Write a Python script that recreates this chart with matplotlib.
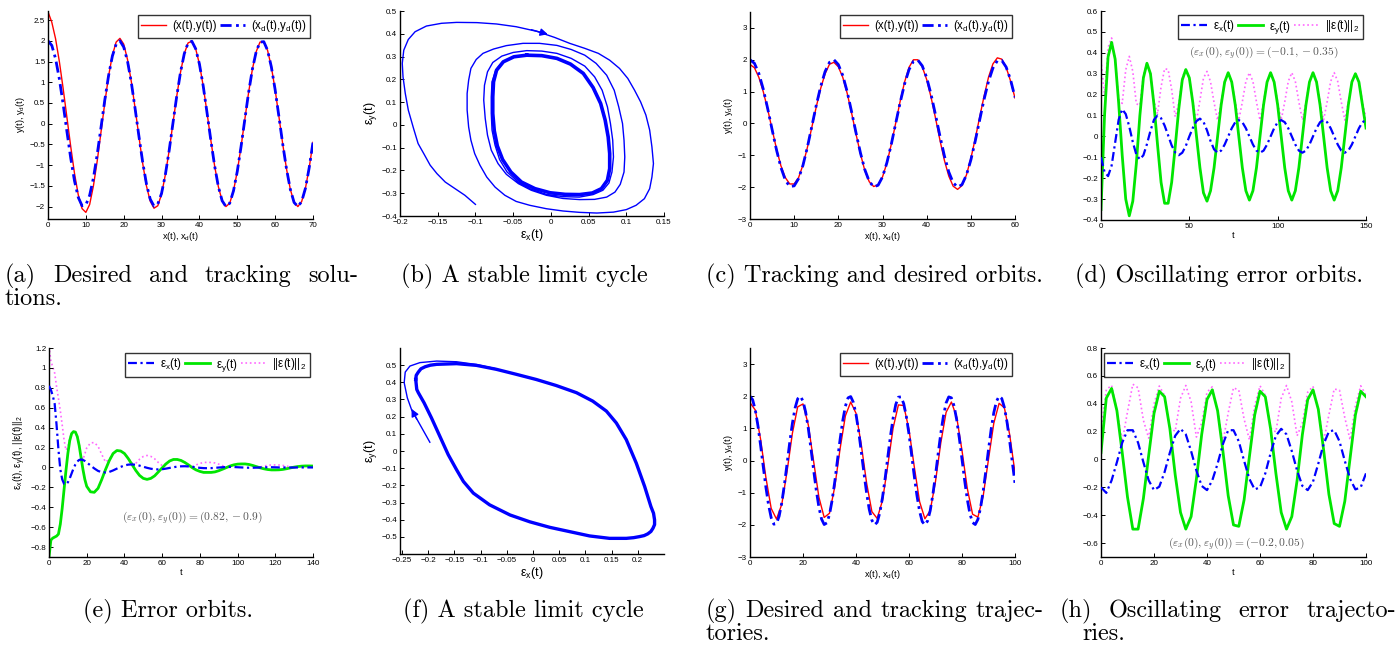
import matplotlib
matplotlib.use('Agg')
import matplotlib.pyplot as plt
from matplotlib.ticker import FuncFormatter

plt.rcParams['font.family'] = ['Liberation Sans', 'DejaVu Sans']
plt.rcParams['axes.unicode_minus'] = True

W, H = 1398, 653

# ---------------- data ----------------
# desired orbit y_d over x_d = 0..100 (step 1), shared by (a), (c), (g)
x_d = list(range(0, 101))
y_d = [2.00, 1.89, 1.57, 1.08, 0.47, -0.19, -0.83, -1.38, -1.78, -1.98,
       -1.96, -1.73, -1.31, -0.74, -0.09, 0.57, 1.16, 1.63, 1.92, 2.00,
       1.85, 1.51, 1.00, 0.37, -0.29, -0.92, -1.45, -1.82, -1.99, -1.94,
       -1.68, -1.23, -0.65, 0.01, 0.66, 1.24, 1.69, 1.95, 1.99, 1.81,
       1.44, 0.91, 0.27, -0.39, -1.01, -1.52, -1.86, -2.00, -1.92, -1.62,
       -1.15, -0.55, 0.11, 0.76, 1.32, 1.74, 1.97, 1.98, 1.77, 1.37,
       0.82, 0.17, -0.49, -1.09, -1.58, -1.90, -2.00, -1.88, -1.56, -1.06,
       -0.45, 0.21, 0.85, 1.39, 1.79, 1.98, 1.95, 1.70, 1.27, 0.69,
       0.04, -0.62, -1.21, -1.66, -1.93, -1.99, -1.83, -1.47, -0.95, -0.32,
       0.34, 0.97, 1.49, 1.84, 2.00, 1.93, 1.65, 1.19, 0.60, -0.06,
       -0.71]

# (a) tracking orbit, x = 0..70; after x=30 it lies on the desired one
y_a_head = [2.70, 2.45, 2.05, 1.50, 0.85, 0.15, -0.55, -1.20, -1.72, -2.05,
            -2.14, -1.95, -1.50, -0.90, -0.20, 0.50, 1.15, 1.65, 1.97, 2.06,
            1.92, 1.55, 1.02, 0.38, -0.30, -0.95, -1.50, -1.87, -2.04, -1.98,
            -1.70]
y_a = y_a_head + y_d[31:71]

# (c) tracking orbit, x = 0..60
y_c = [1.85, 1.75, 1.45, 1.00, 0.45, -0.18, -0.80, -1.33, -1.70, -1.90,
       -1.90, -1.70, -1.30, -0.75, -0.12, 0.52, 1.10, 1.56, 1.86, 1.92,
       1.78, 1.45, 0.95, 0.33, -0.33, -0.95, -1.48, -1.83, -1.98, -1.93,
       -1.68, -1.24, -0.65, 0.02, 0.70, 1.30, 1.76, 2.00, 2.00, 1.78,
       1.38, 0.82, 0.17, -0.52, -1.15, -1.65, -1.97, -2.07, -1.95, -1.62,
       -1.10, -0.48, 0.20, 0.86, 1.45, 1.87, 2.06, 2.02, 1.76, 1.33,
       0.80]

# (g) tracking orbit, x = 0..100 step 2
x_g = list(range(0, 101, 2))
y_g = [1.80, 1.57, 0.66, -0.53, -1.49, -1.82, -1.36, -0.33, 0.85, 1.67,
       1.76, 1.11, -0.02, -1.14, -1.77, -1.64, -0.81, 0.37, 1.39, 1.82,
       1.47, 0.49, -0.70, -1.59, -1.80, -1.24, -0.15, 1.01, 1.73, 1.71,
       0.96, -0.20, -1.28, -1.81, -1.56, -0.65, 0.55, 1.50, 1.82, 1.35,
       0.31, -0.87, -1.67, -1.76, -1.10, 0.04, 1.16, 1.78, 1.64, 0.80,
       -0.38]

# (b) error phase portrait: transient spiral and the limit cycle
b_ex = [-0.100, -0.114, -0.127, -0.140, -0.151, -0.160, -0.168, -0.176, -0.182, -0.189,
        -0.193, -0.196, -0.197, -0.195, -0.189, -0.180, -0.165, -0.145, -0.125, -0.098,
        -0.072, -0.046, -0.019, 0.005, 0.025, 0.045, 0.063, 0.078, 0.091, 0.102,
        0.111, 0.119, 0.126, 0.131, 0.134, 0.136, 0.134, 0.131, 0.124, 0.113,
        0.100, 0.083, 0.061, 0.038, 0.016, -0.006, -0.028, -0.046, -0.061, -0.074,
        -0.085, -0.094, -0.101, -0.106, -0.109, -0.111, -0.111, -0.109, -0.106, -0.099,
        -0.090, -0.076, -0.059, -0.037, -0.015, 0.008, 0.027, 0.045, 0.060, 0.074,
        0.084, 0.090, 0.095, 0.097, 0.098, 0.097, 0.092, 0.085, 0.074, 0.058,
        0.038, 0.016, -0.006, -0.026, -0.043, -0.059, -0.070, -0.079, -0.084, -0.087,
        -0.089, -0.088, -0.084, -0.077, -0.065, -0.050, -0.032, -0.012, 0.008, 0.027,
        0.045, 0.058, 0.068, 0.075, 0.079, 0.082, 0.083, 0.081, 0.077, 0.069,
        0.056, 0.038, 0.016, -0.006, -0.026, -0.043, -0.058, -0.068, -0.074, -0.078,
        -0.079, -0.079, -0.078, -0.073, -0.064, -0.050, -0.032]
b_ey = [-0.349, -0.309, -0.280, -0.251, -0.214, -0.177, -0.129, -0.082, -0.016, 0.065,
        0.138, 0.211, 0.270, 0.328, 0.375, 0.409, 0.434, 0.446, 0.450, 0.449,
        0.443, 0.431, 0.411, 0.384, 0.358, 0.336, 0.314, 0.284, 0.248, 0.204,
        0.152, 0.101, 0.043, -0.023, -0.097, -0.170, -0.229, -0.280, -0.324, -0.353,
        -0.372, -0.383, -0.387, -0.384, -0.378, -0.368, -0.353, -0.336, -0.309, -0.273,
        -0.229, -0.177, -0.126, -0.067, -0.009, 0.065, 0.138, 0.196, 0.248, 0.287,
        0.314, 0.333, 0.348, 0.358, 0.358, 0.349, 0.331, 0.306, 0.270, 0.218,
        0.152, 0.079, 0.006, -0.067, -0.141, -0.207, -0.261, -0.295, -0.317, -0.327,
        -0.328, -0.323, -0.309, -0.287, -0.258, -0.217, -0.170, -0.111, -0.045, 0.028,
        0.109, 0.174, 0.233, 0.274, 0.302, 0.318, 0.326, 0.324, 0.314, 0.292,
        0.258, 0.211, 0.152, 0.079, 0.006, -0.067, -0.141, -0.207, -0.255, -0.287,
        -0.306, -0.317, -0.315, -0.305, -0.283, -0.251, -0.207, -0.152, -0.089, -0.023,
        0.050, 0.123, 0.189, 0.240, 0.277, 0.299, 0.306]
b_cx = [-0.032, -0.012, 0.008, 0.026, 0.043, 0.056, 0.066, 0.072, 0.076, 0.078,
        0.078, 0.075, 0.067, 0.055, 0.038, 0.019, -0.001, -0.021, -0.039, -0.053,
        -0.064, -0.071, -0.075, -0.077, -0.077, -0.076, -0.072, -0.063, -0.049, -0.032]
b_cy = [0.306, 0.304, 0.292, 0.267, 0.226, 0.164, 0.094, 0.021, -0.053, -0.126,
        -0.192, -0.243, -0.280, -0.299, -0.306, -0.305, -0.298, -0.280, -0.251, -0.207,
        -0.152, -0.092, -0.026, 0.050, 0.123, 0.189, 0.240, 0.277, 0.299, 0.306]

# (d) error orbits, t = 0..150 step 2
t_d = list(range(0, 151, 2))
ex_d = [-0.10, -0.17, -0.19, -0.14, -0.03, 0.08, 0.13, 0.107, 0.047, -0.027,
        -0.087, -0.11, -0.09, -0.037, 0.027, 0.08, 0.10, 0.087, 0.052, 0.005,
        -0.043, -0.077, -0.09, -0.078, -0.046, 0.0, 0.041, 0.073, 0.085, 0.07,
        0.029, -0.022, -0.062, -0.078, -0.068, -0.039, 0.0, 0.039, 0.068, 0.078,
        0.068, 0.039, 0.0, -0.039, -0.068, -0.078, -0.068, -0.039, 0.0, 0.039,
        0.068, 0.078, 0.068, 0.039, 0.0, -0.039, -0.068, -0.078, -0.068, -0.039,
        0.0, 0.039, 0.068, 0.078, 0.068, 0.039, 0.0, -0.039, -0.068, -0.078,
        -0.068, -0.039, 0.0, 0.039, 0.068, 0.078]
ey_d = [-0.35, 0.10, 0.38, 0.45, 0.37, 0.16, -0.09, -0.30, -0.38, -0.31,
        -0.13, 0.10, 0.28, 0.35, 0.30, 0.15, -0.04, -0.22, -0.32, -0.32,
        -0.22, -0.05, 0.13, 0.27, 0.32, 0.28, 0.16, 0.005, -0.15, -0.27,
        -0.31, -0.26, -0.15, 0.0, 0.15, 0.26, 0.305, 0.26, 0.15, 0.0,
        -0.15, -0.26, -0.305, -0.26, -0.15, 0.0, 0.15, 0.26, 0.305, 0.26,
        0.15, 0.0, -0.15, -0.26, -0.305, -0.26, -0.15, 0.0, 0.15, 0.26,
        0.305, 0.26, 0.15, 0.0, -0.15, -0.26, -0.305, -0.26, -0.15, 0.0,
        0.15, 0.26, 0.30, 0.26, 0.15, 0.04]
en_d = [0.364, 0.197, 0.425, 0.471, 0.371, 0.179, 0.158, 0.318, 0.383, 0.311,
        0.156, 0.149, 0.294, 0.352, 0.301, 0.170, 0.108, 0.237, 0.324, 0.320,
        0.224, 0.094, 0.158, 0.281, 0.323, 0.280, 0.165, 0.073, 0.172, 0.279,
        0.311, 0.261, 0.162, 0.078, 0.165, 0.263, 0.305, 0.263, 0.165, 0.078,
        0.165, 0.263, 0.305, 0.263, 0.165, 0.078, 0.165, 0.263, 0.305, 0.263,
        0.165, 0.078, 0.165, 0.263, 0.305, 0.263, 0.165, 0.078, 0.165, 0.263,
        0.305, 0.263, 0.165, 0.078, 0.165, 0.263, 0.305, 0.263, 0.165, 0.078,
        0.165, 0.263, 0.300, 0.263, 0.165, 0.088]

# (e) error orbits, t = 0..19 step 1 then 20..140 step 2
t_e = list(range(0, 20)) + list(range(20, 141, 2))
ex_e = [0.82, 0.78, 0.72, 0.64, 0.43, 0.18, -0.02, -0.12, -0.165, -0.17,
        -0.15, -0.11, -0.06, -0.01, 0.03, 0.06, 0.075, 0.08, 0.075, 0.065,
        0.05, 0.02, -0.01, -0.035, -0.048, -0.05, -0.045, -0.03, -0.012, 0.005,
        0.02, 0.028, 0.03, 0.027, 0.018, 0.007, -0.004, -0.013, -0.019, -0.02,
        -0.018, -0.012, -0.005, 0.002, 0.008, 0.011, 0.012, 0.01, 0.006, 0.001,
        -0.004, -0.007, -0.008, -0.007, -0.004, -0.001, 0.002, 0.004, 0.005, 0.004,
        0.002, 0.0, -0.002, -0.003, -0.003, -0.002, 0.0, 0.001, 0.002, 0.002,
        0.001, 0.0, 0.0, -0.001, -0.001, -0.001, 0.0, 0.0, 0.0, 0.0,
        0.0]
ey_e = [-0.90, -0.73, -0.71, -0.70, -0.69, -0.67, -0.57, -0.41, -0.22, -0.03,
        0.14, 0.27, 0.34, 0.36, 0.355, 0.31, 0.22, 0.10, -0.02, -0.12,
        -0.19, -0.245, -0.25, -0.21, -0.12, -0.02, 0.07, 0.14, 0.17, 0.165,
        0.14, 0.09, 0.03, -0.03, -0.08, -0.11, -0.12, -0.11, -0.085, -0.045,
        -0.005, 0.035, 0.065, 0.08, 0.08, 0.07, 0.05, 0.025, -0.003, -0.025,
        -0.04, -0.05, -0.05, -0.05, -0.045, -0.033, -0.018, -0.002, 0.014, 0.026,
        0.033, 0.035, 0.035, 0.03, 0.02, 0.008, -0.004, -0.014, -0.021, -0.025,
        -0.025, -0.024, -0.02, -0.013, -0.005, 0.003, 0.009, 0.013, 0.015, 0.015,
        0.014]
en_e = [1.217, 1.068, 1.011, 0.949, 0.813, 0.694, 0.570, 0.427, 0.275, 0.173,
        0.205, 0.292, 0.345, 0.360, 0.356, 0.316, 0.232, 0.128, 0.078, 0.136,
        0.196, 0.246, 0.250, 0.213, 0.129, 0.054, 0.083, 0.143, 0.170, 0.165,
        0.141, 0.094, 0.042, 0.040, 0.082, 0.110, 0.120, 0.111, 0.087, 0.049,
        0.019, 0.037, 0.065, 0.080, 0.080, 0.071, 0.051, 0.027, 0.007, 0.025,
        0.040, 0.050, 0.051, 0.050, 0.045, 0.033, 0.018, 0.004, 0.015, 0.026,
        0.033, 0.035, 0.035, 0.030, 0.020, 0.008, 0.004, 0.014, 0.021, 0.025,
        0.025, 0.024, 0.020, 0.013, 0.005, 0.003, 0.009, 0.013, 0.015, 0.015,
        0.014]

# (f) error phase portrait: transient and the limit cycle
f_ex = [-0.197, -0.232, -0.240, -0.246, -0.244, -0.235, -0.216, -0.184, -0.146, -0.108, -0.070]
f_ey = [0.051, 0.241, 0.309, 0.397, 0.459, 0.494, 0.514, 0.523, 0.519, 0.503, 0.478]
f_cx = [-0.224, -0.223, -0.219, -0.214, -0.206, -0.196, -0.184, -0.146, -0.108, -0.070,
        -0.032, 0.006, 0.044, 0.083, 0.114, 0.140, 0.159, 0.178, 0.197, 0.213,
        0.225, 0.230, 0.232, 0.232, 0.229, 0.225, 0.219, 0.212, 0.203, 0.192,
        0.178, 0.146, 0.108, 0.070, 0.032, -0.006, -0.044, -0.083, -0.114, -0.133,
        -0.146, -0.162, -0.178, -0.194, -0.208, -0.219, -0.222, -0.224]
f_cy = [0.416, 0.440, 0.459, 0.478, 0.490, 0.499, 0.504, 0.508, 0.498, 0.475,
        0.446, 0.416, 0.381, 0.339, 0.290, 0.232, 0.163, 0.066, -0.070, -0.206,
        -0.323, -0.362, -0.401, -0.428, -0.449, -0.468, -0.482, -0.492, -0.498, -0.504,
        -0.508, -0.508, -0.494, -0.469, -0.444, -0.412, -0.372, -0.313, -0.245, -0.177,
        -0.109, -0.021, 0.086, 0.193, 0.280, 0.339, 0.358, 0.416]

# (h) error trajectories, t = 0..100 step 2
t_h = list(range(0, 101, 2))
ex_h = [-0.20, -0.24, -0.15, -0.02, 0.12, 0.21, 0.21, 0.12, -0.02, -0.15,
        -0.22, -0.195, -0.09, 0.05, 0.17, 0.22, 0.18, 0.06, -0.08, -0.19,
        -0.22, -0.15, -0.03, 0.11, 0.21, 0.21, 0.13, -0.01, -0.14, -0.215,
        -0.20, -0.10, 0.045, 0.17, 0.22, 0.18, 0.06, -0.08, -0.19, -0.22,
        -0.16, -0.03, 0.11, 0.20, 0.21, 0.13, -0.01, -0.14, -0.215, -0.20,
        -0.10]
ey_h = [0.05, 0.44, 0.51, 0.35, 0.05, -0.27, -0.50, -0.50, -0.28, 0.03,
        0.33, 0.49, 0.45, 0.22, -0.11, -0.38, -0.50, -0.41, -0.14, 0.18,
        0.43, 0.50, 0.35, 0.06, -0.26, -0.47, -0.48, -0.29, 0.02, 0.32,
        0.49, 0.45, 0.22, -0.10, -0.38, -0.50, -0.41, -0.15, 0.18, 0.43,
        0.50, 0.36, 0.07, -0.25, -0.46, -0.48, -0.30, 0.01, 0.32, 0.49,
        0.45]
en_h = [0.206, 0.501, 0.532, 0.351, 0.130, 0.342, 0.540, 0.514, 0.281, 0.153,
        0.397, 0.527, 0.459, 0.226, 0.202, 0.439, 0.531, 0.414, 0.161, 0.262,
        0.483, 0.522, 0.351, 0.125, 0.334, 0.515, 0.497, 0.290, 0.141, 0.386,
        0.529, 0.461, 0.225, 0.197, 0.439, 0.531, 0.414, 0.170, 0.262, 0.483,
        0.525, 0.361, 0.130, 0.320, 0.506, 0.497, 0.300, 0.140, 0.386, 0.529,
        0.461]

RED, BLUE, GREEN, MAG = '#ff0000', '#0000ff', '#00e600', '#ff66ff'
DASHDOT = (4, 1.6, 1, 1.6)

fig = plt.figure(figsize=(W / 100, H / 100), dpi=100)
fmt = FuncFormatter(lambda v, p: ('%g' % round(v, 6)).replace('-', '\u2212'))


def panel(l, t, r, b, xlim, ylim, xt, yt):
    ax = fig.add_axes([l / W, 1 - b / H, (r - l) / W, (b - t) / H])
    ax.set_xlim(xlim)
    ax.set_ylim(ylim)
    ax.set_xticks(xt)
    ax.set_yticks(yt)
    ax.xaxis.set_major_formatter(fmt)
    ax.yaxis.set_major_formatter(fmt)
    for s in ('top', 'right'):
        ax.spines[s].set_visible(False)
    for s in ('left', 'bottom'):
        ax.spines[s].set_linewidth(1.0)
    ax.tick_params(direction='in', length=3, width=0.7, labelsize=5.8, pad=2)
    return ax


def legend(ax, x, y, loc='upper right', ncol=2):
    lg = ax.legend(loc=loc, bbox_to_anchor=(x / W, 1 - y / H), bbox_transform=fig.transFigure,
                   ncol=ncol, fontsize=8.3, frameon=True, fancybox=False, borderaxespad=0,
                   handlelength=2.2, handletextpad=0.5, columnspacing=0.3, borderpad=0.3)
    lg.get_frame().set_edgecolor('black')
    lg.get_frame().set_linewidth(1.0)


def note(ax, x, y, s):
    ax.text(x, y, s, ha='center', va='center', fontsize=8.3, color='0.35', math_fontfamily='cm')


def tracking(ax, xs, ys, n):
    ax.plot(xs, ys, color=RED, lw=1.0, label='(x(t),y(t))')
    ax.plot(x_d[:n], y_d[:n], color=BLUE, lw=2.0, dashes=DASHDOT,
            label='(x$_\\mathregular{d}$(t),y$_\\mathregular{d}$(t))')
    ax.set_xlabel('x(t), x$_\\mathregular{d}$(t)', fontsize=6.6, labelpad=1)
    ax.set_ylabel('y(t), y$_\\mathregular{d}$(t)', fontsize=6.6, labelpad=2)


def errors(ax, t, ex, ey, en):
    ax.plot(t, ex, color=BLUE, lw=1.6, dashes=DASHDOT, label='\u03b5$_\\mathregular{x}$(t)', zorder=3)
    ax.plot(t, ey, color=GREEN, lw=2.0, label='\u03b5$_\\mathregular{y}$(t)', zorder=2)
    ax.plot(t, en, color=MAG, lw=1.2, ls=':', label='||\u03b5(t)||$_\\mathregular{2}$', zorder=1)
    ax.set_xlabel('t', fontsize=6.6, labelpad=1)


# (a)
ax = panel(48, 11, 313, 219, (0, 70), (-2.3, 2.72), range(0, 71, 10),
           [-2, -1.5, -1, -0.5, 0, 0.5, 1, 1.5, 2, 2.5])
tracking(ax, x_d[:71], y_a, 71)
legend(ax, 310, 15)

# (b)
ax = panel(400, 11, 664, 216, (-0.2, 0.15), (-0.4, 0.5),
           [-0.2, -0.15, -0.1, -0.05, 0, 0.05, 0.1, 0.15],
           [-0.4, -0.3, -0.2, -0.1, 0, 0.1, 0.2, 0.3, 0.4, 0.5])
ax.plot(b_ex, b_ey, color=BLUE, lw=1.0)
ax.plot(b_cx, b_cy, color=BLUE, lw=2.6)
ax.annotate('', xy=(-0.004, 0.398), xytext=(-0.026, 0.418),
            arrowprops=dict(arrowstyle='-|>', color=BLUE, lw=1.0, mutation_scale=11,
                            shrinkA=0, shrinkB=0))
ax.set_xlabel('\u03b5$_\\mathregular{x}$(t)', fontsize=9, labelpad=1)
ax.set_ylabel('\u03b5$_\\mathregular{y}$(t)', fontsize=9, labelpad=2)

# (c)
ax = panel(750, 12, 1015, 219, (0, 60), (-3, 3.5), range(0, 61, 10), range(-3, 4))
tracking(ax, x_d[:61], y_c, 61)
legend(ax, 1012, 15)

# (d)
ax = panel(1101, 11, 1366, 220, (0, 150), (-0.4, 0.6), [0, 50, 100, 150],
           [-0.4, -0.3, -0.2, -0.1, 0, 0.1, 0.2, 0.3, 0.4, 0.5, 0.6])
errors(ax, t_d, ex_d, ey_d, en_d)
legend(ax, 1363, 15, ncol=3)
note(ax, 92, 0.40, r'$(\varepsilon_x(0),\varepsilon_y(0))=(-0.1,-0.35)$')

# (e)
ax = panel(49, 348, 313, 557, (0, 140), (-0.9, 1.2), range(0, 141, 20),
           [-0.8, -0.6, -0.4, -0.2, 0, 0.2, 0.4, 0.6, 0.8, 1, 1.2])
errors(ax, t_e, ex_e, ey_e, en_e)
ax.set_ylabel('\u03b5$_\\mathregular{x}$(t), \u03b5$_\\mathregular{y}$(t), ||\u03b5(t)||$_\\mathregular{2}$',
              fontsize=7, labelpad=2)
legend(ax, 310, 353, ncol=3)
note(ax, 76, -0.50, r'$(\varepsilon_x(0),\varepsilon_y(0))=(0.82,-0.9)$')

# (f)
ax = panel(400, 348, 664, 554, (-0.254, 0.25), (-0.599, 0.599),
           [-0.25, -0.2, -0.15, -0.1, -0.05, 0, 0.05, 0.1, 0.15, 0.2],
           [-0.5, -0.4, -0.3, -0.2, -0.1, 0, 0.1, 0.2, 0.3, 0.4, 0.5])
ax.plot(f_ex, f_ey, color=BLUE, lw=1.0)
ax.plot(f_cx, f_cy, color=BLUE, lw=2.4)
ax.annotate('', xy=(-0.232, 0.245), xytext=(-0.222, 0.185),
            arrowprops=dict(arrowstyle='-|>', color=BLUE, lw=1.0, mutation_scale=11,
                            shrinkA=0, shrinkB=0))
ax.set_xlabel('\u03b5$_\\mathregular{x}$(t)', fontsize=9, labelpad=1)
ax.set_ylabel('\u03b5$_\\mathregular{y}$(t)', fontsize=9, labelpad=2)

# (g)
ax = panel(750, 348, 1015, 557, (0, 100), (-3, 3.5), range(0, 101, 20), range(-3, 4))
ax.plot(x_g, y_g, color=RED, lw=1.0, label='(x(t),y(t))')
ax.plot(x_d, y_d, color=BLUE, lw=2.0, dashes=DASHDOT,
        label='(x$_\\mathregular{d}$(t),y$_\\mathregular{d}$(t))')
ax.set_xlabel('x(t), x$_\\mathregular{d}$(t)', fontsize=6.6, labelpad=1)
ax.set_ylabel('y(t), y$_\\mathregular{d}$(t)', fontsize=6.6, labelpad=2)
legend(ax, 1012, 353)

# (h)
ax = panel(1101, 348, 1366, 557, (0, 100), (-0.7, 0.8), range(0, 101, 20),
           [-0.6, -0.4, -0.2, 0, 0.2, 0.4, 0.6, 0.8])
errors(ax, t_h, ex_h, ey_h, en_h)
legend(ax, 1104, 353, loc='upper left', ncol=3)
note(ax, 51, -0.60, r'$(\varepsilon_x(0),\varepsilon_y(0))=(-0.2,0.05)$')

# ---------------- captions ----------------
CAP = 17.5
renderer = fig.canvas.get_renderer()


def caption(x0, yb, text, x1=None):
    if x1 is None:
        fig.text(x0 / W, 1 - yb / H, text, fontsize=CAP, family='cmr10', va='baseline')
        return
    words = text.split()
    arts = [fig.text(0, 1 - yb / H, w, fontsize=CAP, family='cmr10', va='baseline') for w in words]
    widths = [a.get_window_extent(renderer).width for a in arts]
    gap = (x1 - x0 - sum(widths)) / (len(words) - 1)
    x = x0
    for a, w in zip(arts, widths):
        a.set_x(x / W)
        x += w + gap


caption(5, 282, '(a) Desired and tracking solu-', 358)
caption(5, 305, 'tions.')
caption(401, 282, '(b) A stable limit cycle')
caption(706, 282, '(c) Tracking and desired orbits.')
caption(1075, 282, '(d) Oscillating error orbits.')
caption(83, 617, '(e) Error orbits.')
caption(403, 617, '(f) A stable limit cycle')
caption(706, 617, '(g) Desired and tracking trajec-', 1044)
caption(706, 640, 'tories.')
caption(1060, 617, '(h) Oscillating error trajecto-', 1396)
caption(1082, 640, 'ries.')

fig.savefig('out.png', dpi=100)
